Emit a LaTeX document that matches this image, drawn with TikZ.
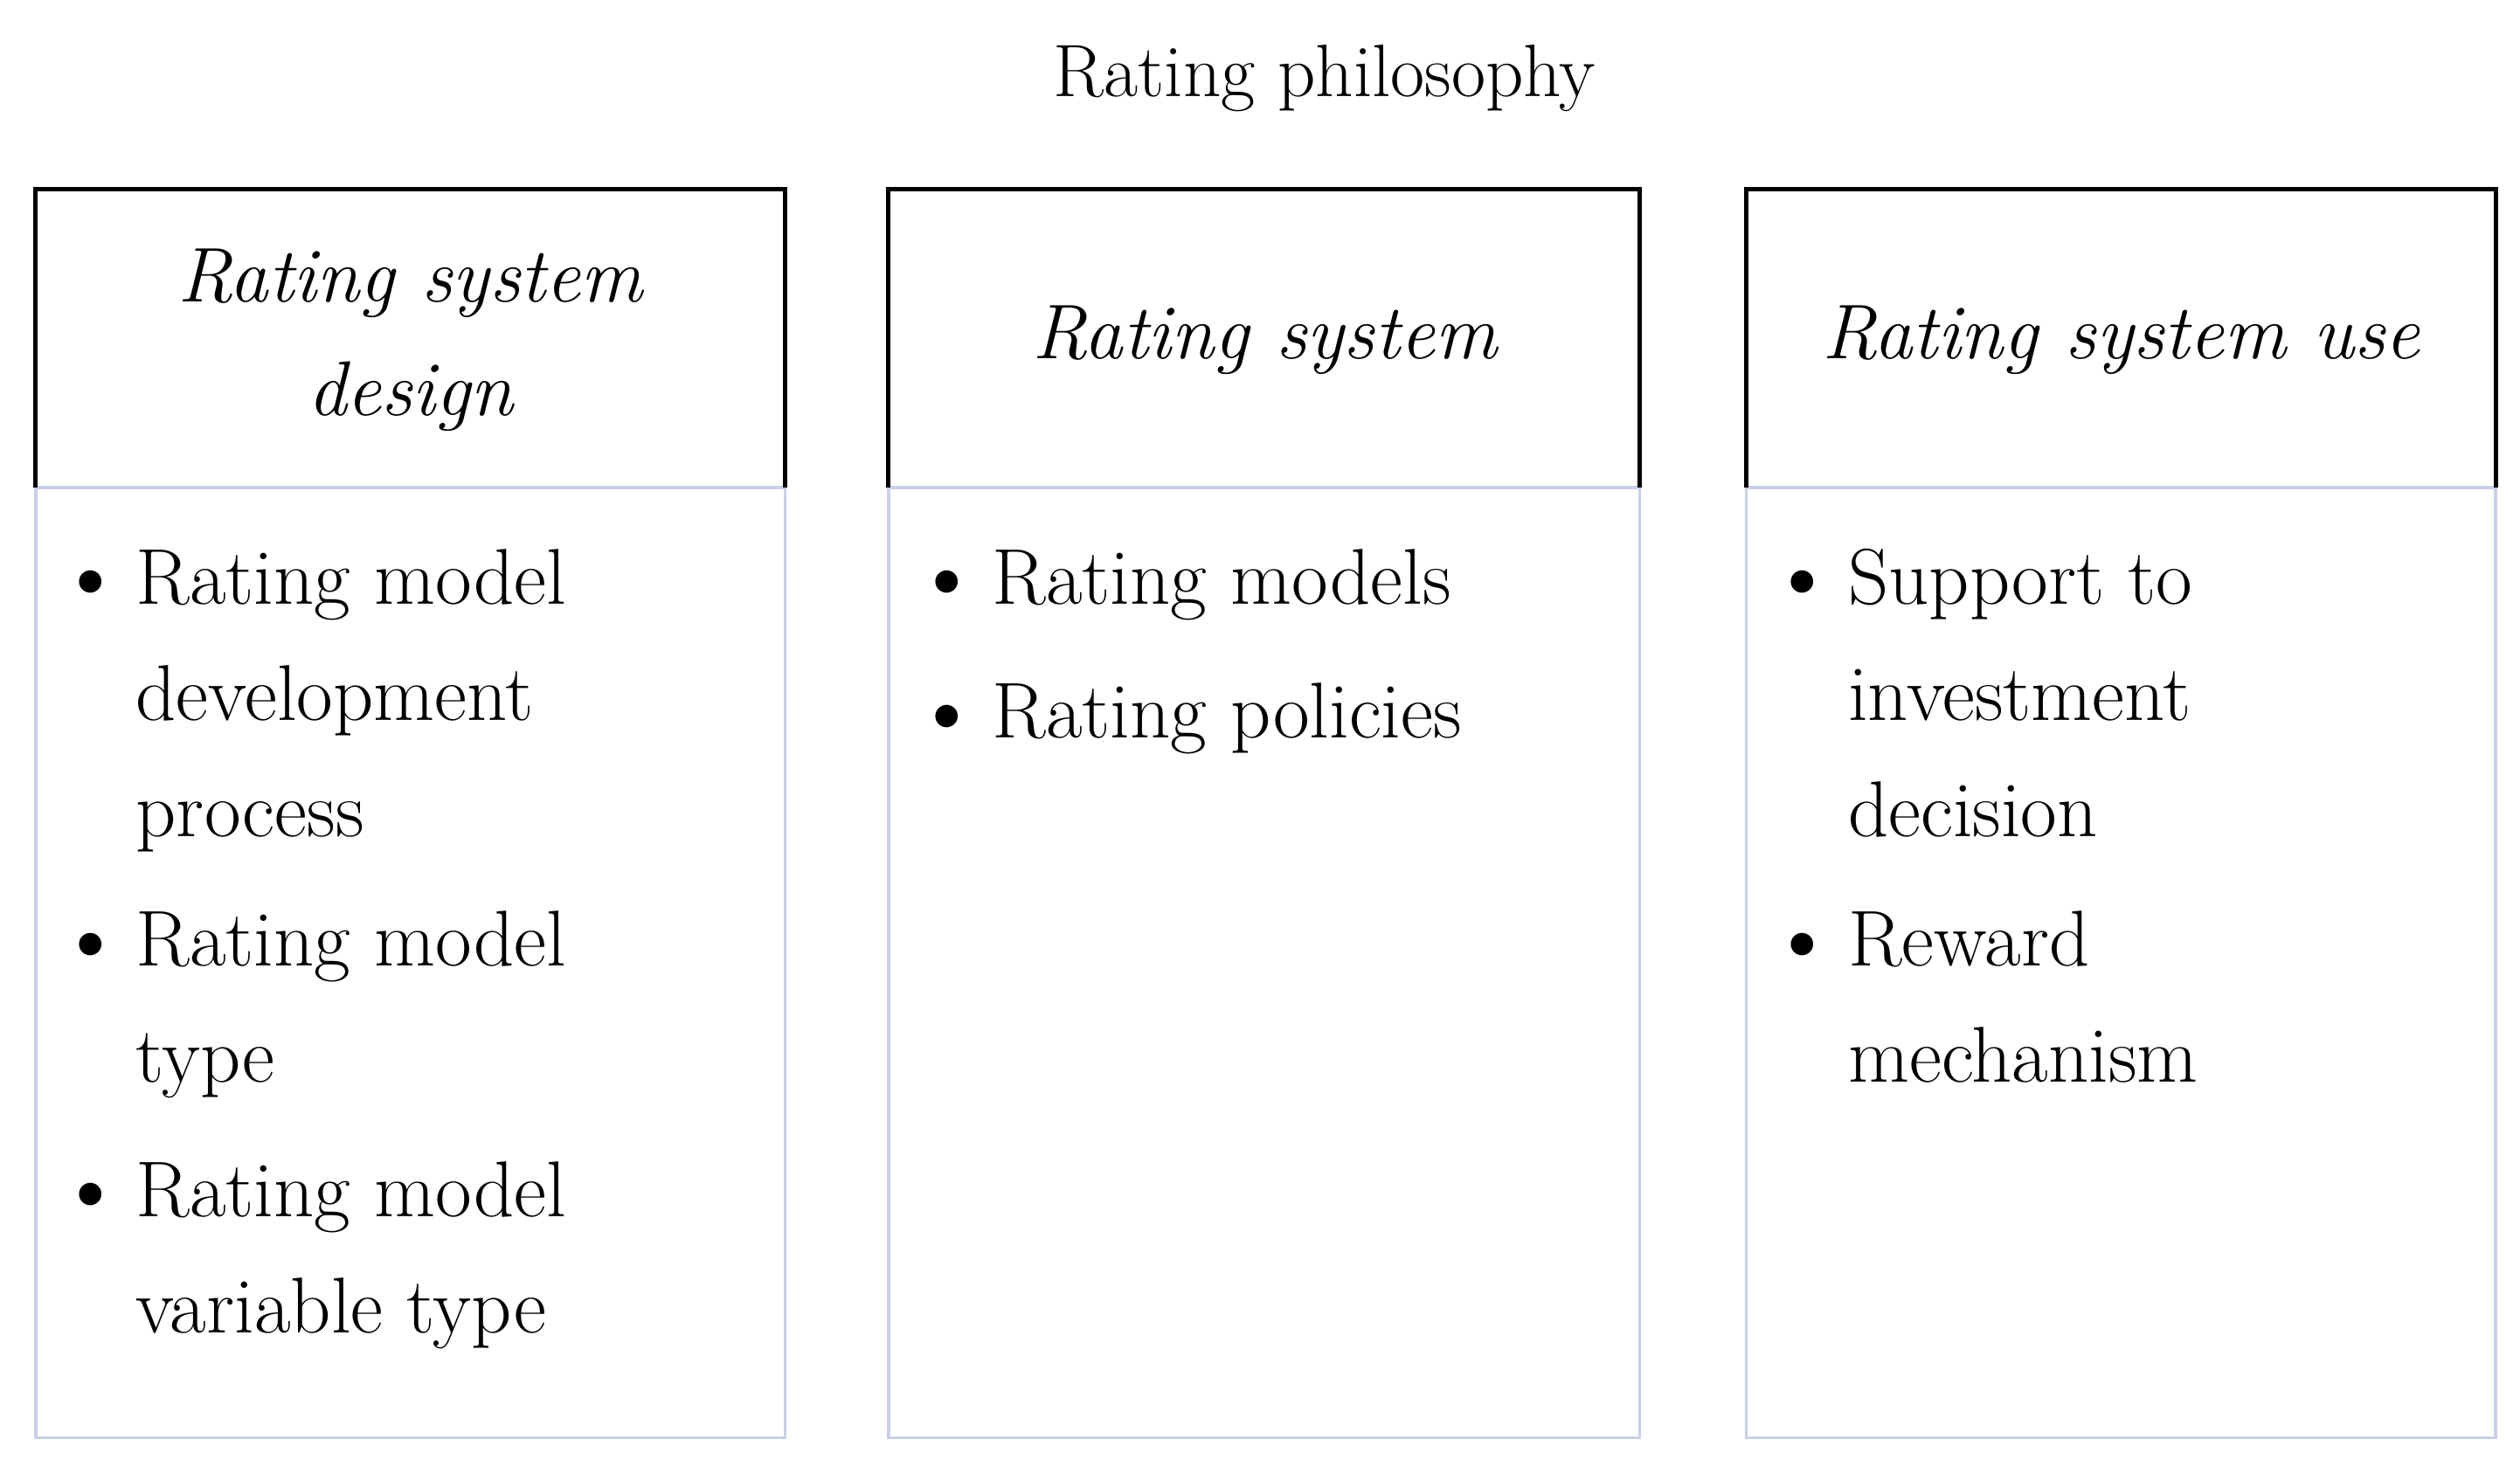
\documentclass[tikz,border=0pt]{standalone}
\begin{document}
\begin{tikzpicture}[x=1pt,y=-1pt,
  hdr/.style={draw=black,line width=2.6pt},
  bodybox/.style={draw=bluegray,line width=2pt},
  txt/.style={anchor=base west,inner sep=0pt,font=\fontsize{49}{56}\selectfont},
  htxt/.style={anchor=base,inner sep=0pt,font=\fontsize{48}{56}\selectfont\itshape},
  bul/.style={anchor=base,inner sep=0pt,font=\fontsize{62}{56}\selectfont}]
\definecolor{bluegray}{RGB}{200,208,232}
\useasboundingbox (0,0) rectangle (1560,912);
\node[anchor=base,inner sep=0pt,font=\fontsize{46}{52}\selectfont] (title) at (820,60) {Rating philosophy};
\foreach \l/\r/\n in {22/486/a,550/1015/b,1081/1545/c}{
  \draw[bodybox] (\l,302) rectangle (\r,890);
  \draw[hdr] (\l,302) -- (\l,117) -- (\r,117) -- (\r,302);
  \coordinate (\n) at (\l,117);
}
\node[htxt] (h1a) at (254,187) {Rating system};
\node[htxt] (h1b) at (254,257) {design};
\node[htxt] (h2) at (783,222) {Rating system};
\node[htxt] (h3) at (1313,222) {Rating system use};
\foreach \y/\t/\b [count=\i] in {374/Rating model/1,446/development/0,518/process/0,598/Rating model/1,670/type/0,753/Rating model/1,825/variable type/0}{
  \node[txt] (c1\i) at (84,\y) {\t};
  \ifnum\b=1 \node[bul] (b1\i) at (56,\y+3) {\textbullet};\fi
}
\foreach \y/\t [count=\i] in {374/Rating models,457/Rating policies}{
  \node[txt] (c2\i) at (614,\y) {\t};
  \node[bul] (b2\i) at (586,\y+3) {\textbullet};
}
\foreach \y/\t/\b [count=\i] in {374/Support to/1,446/investment/0,518/decision/0,598/Reward/1,670/mechanism/0}{
  \node[txt] (c3\i) at (1144,\y) {\t};
  \ifnum\b=1 \node[bul] (b3\i) at (1116,\y+3) {\textbullet};\fi
}
\end{tikzpicture}
\end{document}
